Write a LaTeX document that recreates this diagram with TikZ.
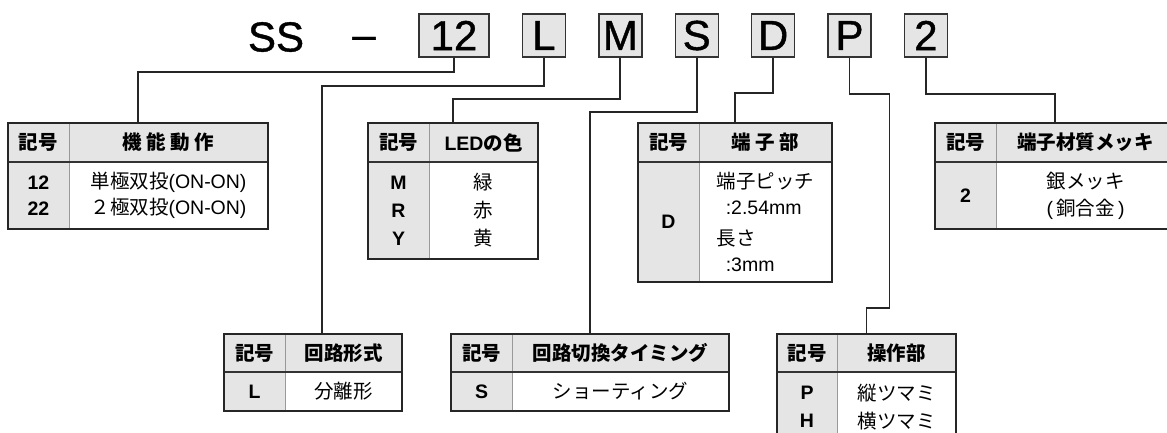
\documentclass[tikz,border=0pt]{standalone}
\usepackage{fontspec}
\setmainfont{Liberation Sans}
\newfontfamily\jp{Noto Sans CJK JP}
\newfontfamily\tagfont[AutoFakeBold=1.0]{Liberation Sans}
\usetikzlibrary{positioning, fit}

\begin{document}
\begin{tikzpicture}[
  x=1pt, y=-1pt,
  font=\fontsize{19.5}{25.5}\selectfont,
  tag/.style={rectangle, draw=black!80, line width=1.4pt, fill=gray!20,
              minimum width=43pt, minimum height=43pt, inner sep=0pt,
              font=\tagfont\fontsize{42}{42}\selectfont\bfseries},
  wire/.style={draw=black!85, line width=1.8pt},
  hd/.style={rectangle, fill=gray!20, inner sep=0pt, outer sep=0pt,
             minimum height=39pt, font=\fontsize{19.5}{25.5}\selectfont\bfseries},
  kc/.style={rectangle, fill=gray!20, inner sep=0pt, outer sep=0pt, align=center,
             minimum width=61pt, font=\fontsize{19.5}{25.5}\selectfont\bfseries},
  vc/.style={rectangle, fill=white, inner sep=0pt, outer sep=0pt, align=center},
  frame/.style={draw=black!85, line width=1.8pt, inner sep=0pt},
  rule/.style={draw=black!80, line width=1.2pt},
  sep/.style={draw=gray!80, line width=0.9pt}
]
  \useasboundingbox[fill=white] (0,0) rectangle (1167,432);

  % 型式
  \node[font=\tagfont\fontsize{42}{42}\selectfont\bfseries] (ss) at (276,37) {SS};
  \node[font=\tagfont\fontsize{42}{42}\selectfont\bfseries] (dash) at (364,43) {–};
  \node[tag, minimum width=70pt] (b12) at (454,35.5) {12};
  \node[tag, right=32pt of b12] (bL) {L};
  \node[tag, right=32pt of bL] (bM) {M};
  \node[tag, right=32pt of bM] (bS) {S};
  \node[tag, right=32pt of bS] (bD) {D};
  \node[tag, right=32pt of bD] (bP) {P};
  \node[tag, right=32pt of bP] (b2) {2};

  % 機能動作
  \node[hd, minimum width=61pt, anchor=north west] (k1) at (8,123) {\jp 記号};
  \node[hd, minimum width=199pt, right=0pt of k1] (h1) {\jp 機 能 動 作};
  \node[kc, minimum height=67pt, below=0pt of k1] (c1) {12\\22};
  \node[vc, minimum width=199pt, minimum height=67pt, below=0pt of h1] (v1)
    {{\jp 単極双投}(ON-ON)\\{\jp ２極双投}(ON-ON)};

  % LEDの色
  \node[hd, minimum width=61pt, anchor=north west] (k2) at (368,123) {\jp 記号};
  \node[hd, minimum width=109pt, right=0pt of k2] (h2) {LED{\jp の色}};
  \node[kc, minimum height=97pt, below=0pt of k2] (c2) {M\\[2.5pt]R\\[2.5pt]Y};
  \node[vc, minimum width=109pt, minimum height=97pt, below=0pt of h2] (v2)
    {{\jp 緑}\\[2.5pt]{\jp 赤}\\[2.5pt]{\jp 黄}};

  % 端子部
  \node[hd, minimum width=61pt, anchor=north west] (k3) at (638,123) {\jp 記号};
  \node[hd, minimum width=133pt, right=0pt of k3] (h3) {\jp 端 子 部};
  \node[kc, minimum height=120pt, below=0pt of k3] (c3) {D};
  \node[vc, align=left, minimum width=133pt, minimum height=120pt, below=0pt of h3] (v3)
    {{\jp 端子ピッチ}\\\hspace*{9pt}:2.54mm\\[6pt]{\jp 長さ}\\\hspace*{9pt}:3mm};

  % 端子材質メッキ
  \node[hd, minimum width=61pt, anchor=north west] (k4) at (935,123) {\jp 記号};
  \node[hd, minimum width=179pt, right=0pt of k4] (h4) {\jp 端子材質メッキ};
  \node[kc, minimum height=67pt, below=0pt of k4] (c4) {2};
  \node[vc, minimum width=179pt, minimum height=67pt, below=0pt of h4] (v4)
    {{\jp 銀メッキ}\\[1.5pt](\,{\jp 銅合金}\,)};

  % 回路形式
  \node[hd, minimum width=61pt, minimum height=38pt, anchor=north west] (k5) at (224,334) {\jp 記号};
  \node[hd, minimum width=117pt, minimum height=38pt, right=0pt of k5] (h5) {\jp 回路形式};
  \node[kc, minimum height=39pt, below=0pt of k5] (c5) {L};
  \node[vc, minimum width=117pt, minimum height=39pt, below=0pt of h5] (v5) {\jp 分離形};

  % 回路切換タイミング
  \node[hd, minimum width=61pt, minimum height=38pt, anchor=north west] (k6) at (451,334) {\jp 記号};
  \node[hd, minimum width=217pt, minimum height=38pt, right=0pt of k6] (h6) {\jp 回路切換タイミング};
  \node[kc, minimum height=39pt, below=0pt of k6] (c6) {S};
  \node[vc, minimum width=217pt, minimum height=39pt, below=0pt of h6] (v6) {\jp ショーティング};

  % 操作部
  \node[hd, minimum width=60pt, minimum height=38pt, anchor=north west] (k7) at (777,334) {\jp 記号};
  \node[hd, minimum width=119pt, minimum height=38pt, right=0pt of k7] (h7) {\jp 操作部};
  \node[kc, minimum width=60pt, minimum height=70pt, below=0pt of k7] (c7) {P\\[2.5pt]H};
  \node[vc, minimum width=119pt, minimum height=70pt, below=0pt of h7] (v7)
    {{\jp 縦ツマミ}\\[2.5pt]{\jp 横ツマミ}};

  % 罫線
  \foreach \t in {1,...,7} {
    \draw[sep] (k\t.north east) -- (c\t.south east);
    \draw[rule] (k\t.south west) -- (h\t.south east);
    \node[frame, fit=(k\t)(v\t)] (t\t) {};
  }

  % 引出線
  \draw[wire] (b12.south) -- ++(0,14) -| (t1.north);
  \draw[wire] (bL.south) -- ++(0,28) -| ([xshift=9pt]t5.north);
  \draw[wire] (bM.south) -- ++(0,41) -| (t2.north);
  \draw[wire] (bS.south) -- ++(0,54) -| (t6.north);
  \draw[wire] (bD.south) -- ++(0,35) -| (t3.north);
  \draw[wire] (bP.south) -- ++(0,36) -- ++(40,0) -- ++(0,214) -| (t7.north);
  \draw[wire] (b2.south) -- ++(0,36) -| (t4.north);
\end{tikzpicture}
\end{document}
